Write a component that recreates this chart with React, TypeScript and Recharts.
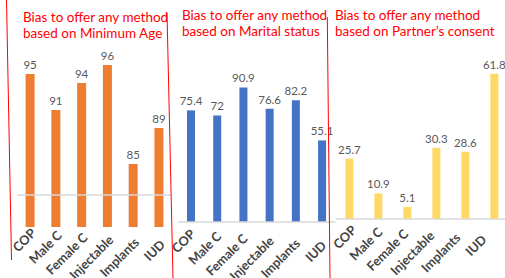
import { Bar, BarChart, LabelList, XAxis, YAxis } from "recharts"

const categories = ["COP", "Male C", "Female C", "Injectable", "Implants", "IUD"]
const minimumAge = [95, 91, 94, 96, 85, 89]
const maritalStatus = [75.4, 72, 90.9, 76.6, 82.2, 55.1]
const partnerConsent = [25.7, 10.9, 5.1, 30.3, 28.6, 61.8]

const titles = [
  ["Bias to offer any method", "based on Minimum Age"],
  ["Bias to offer any method", "based on Marital status"],
  ["Bias to offer any method", "based on Partner\u2019s consent"],
]

const toRows = (values: number[]) => categories.map((name, i) => ({ name, value: values[i] }))

const FONT = "Lato, 'Liberation Sans', sans-serif"

type TickCfg = { dx: number; dxStep: number; y0: number; dyStep: number }

const makeTick = (cfg: TickCfg) => (props: any) => {
  const { x, payload } = props
  const i = categories.indexOf(payload.value)
  const ax = x + cfg.dx + i * cfg.dxStep
  const ay = cfg.y0 + i * cfg.dyStep
  return (
    <text
      x={ax}
      y={ay}
      transform={`rotate(-45 ${ax} ${ay})`}
      textAnchor="end"
      fontFamily={FONT}
      fontWeight={700}
      fontSize={12.8}
      fill="#444"
    >
      {payload.value}
    </text>
  )
}

type PanelProps = {
  left: number
  width: number
  values: number[]
  color: string
  domain: [number, number]
  margin: { top: number; left: number; right: number }
  axisHeight: number
  showAxisLine: boolean
  barSize: number
  tick: TickCfg
}

function Panel(p: PanelProps) {
  return (
    <div style={{ position: "absolute", left: p.left, top: 0 }}>
      <BarChart
        width={p.width}
        height={278}
        data={toRows(p.values)}
        margin={{ top: p.margin.top, left: p.margin.left, right: p.margin.right, bottom: 0 }}
        style={{ overflow: "visible" }}
      >
        <XAxis
          dataKey="name"
          interval={0}
          height={p.axisHeight}
          tickLine={false}
          axisLine={p.showAxisLine ? { stroke: "#d9d9d9", strokeWidth: 1.5 } : false}
          tick={makeTick(p.tick)}
        />
        <YAxis hide domain={p.domain} allowDataOverflow />
        <Bar dataKey="value" fill={p.color} barSize={p.barSize} isAnimationActive={false}>
          <LabelList
            dataKey="value"
            position="top"
            offset={5}
            fill="#595959"
            fontSize={11.5}
            fontFamily={FONT}
          />
        </Bar>
      </BarChart>
    </div>
  )
}

export default function App() {
  return (
    <div
      style={{
        position: "absolute",
        left: 0,
        top: 0,
        width: 505,
        height: 278,
        overflow: "hidden",
        background: "#fff",
      }}
    >
      <Panel
        left={0}
        width={180}
        values={minimumAge}
        color="#ED7D31"
        domain={[78, 100]}
        margin={{ top: 29, left: 17.6, right: 7.8 }}
        axisHeight={51}
        showAxisLine={false}
        barSize={9}
        tick={{ dx: 6.5, dxStep: 0, y0: 234, dyStep: 2.3 }}
      />
      <Panel
        left={170}
        width={170}
        values={maritalStatus}
        color="#4472C4"
        domain={[0, 100]}
        margin={{ top: 74, left: 8, right: 4.7 }}
        axisHeight={56}
        showAxisLine={true}
        barSize={8}
        tick={{ dx: 5, dxStep: 0, y0: 235, dyStep: 2.3 }}
      />
      <Panel
        left={330}
        width={185}
        values={partnerConsent}
        color="#FFD966"
        domain={[0, 80]}
        margin={{ top: 31, left: 5.4, right: 5.7 }}
        axisHeight={59}
        showAxisLine={true}
        barSize={8}
        tick={{ dx: 7.5, dxStep: -3, y0: 231, dyStep: 1.9 }}
      />
      <svg
        width={505}
        height={278}
        style={{ position: "absolute", left: 0, top: 0, pointerEvents: "none" }}
      >
        <line x1={17} y1={195} x2={171} y2={195} stroke="#d9d9d9" strokeWidth={1.5} />
        <line x1={6.5} y1={0} x2={11.5} y2={260} stroke="#ff0000" strokeWidth={1} />
        <line x1={167} y1={13} x2={173} y2={278} stroke="#ff0000" strokeWidth={1} />
        <line x1={327.3} y1={17} x2={330} y2={278} stroke="#ff0000" strokeWidth={1} />
        {[
          { x: 23, y: 22 },
          { x: 182, y: 20 },
          { x: 335, y: 20 },
        ].map((pos, k) => (
          <text key={k} x={pos.x} y={pos.y} fontFamily={FONT} fontSize={13.5} fill="#ff0000">
            <tspan x={pos.x}>{titles[k][0]}</tspan>
            <tspan x={pos.x} dy={16}>
              {titles[k][1]}
            </tspan>
          </text>
        ))}
      </svg>
    </div>
  )
}
